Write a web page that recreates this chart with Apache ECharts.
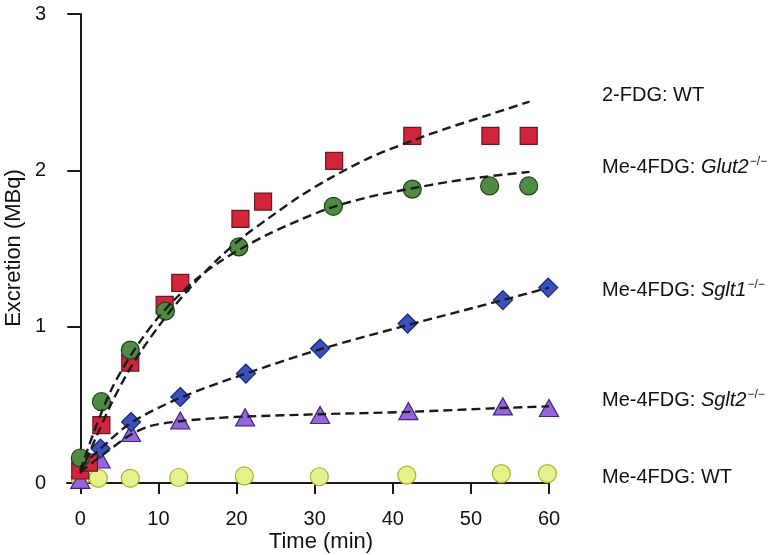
<!DOCTYPE html>
<html>
<head>
<meta charset="utf-8">
<script src="https://cdn.jsdelivr.net/npm/echarts@6/dist/echarts.min.js"></script>
<style>
html,body{margin:0;padding:0;background:#fff;}
#chart{width:776px;height:555px;}
</style>
</head>
<body>
<div id="chart"></div>
<script>
// ---- data ----
const xTicks = [0, 10, 20, 30, 40, 50, 60];
const yTicks = [0, 1, 2, 3];

const fdgWT_t = [0, 1.1, 2.7, 6.4, 10.8, 12.8, 20.5, 23.4, 32.5, 42.5, 52.5, 57.4];
const fdgWT_y = [0.08, 0.13, 0.37, 0.77, 1.14, 1.28, 1.69, 1.80, 2.06, 2.22, 2.22, 2.22];

const glut2_t = [0, 2.7, 6.4, 10.9, 20.3, 32.4, 42.5, 52.4, 57.4];
const glut2_y = [0.16, 0.52, 0.85, 1.10, 1.51, 1.77, 1.88, 1.90, 1.90];

const sglt1_t = [0.2, 2.6, 6.5, 12.8, 21.2, 30.7, 41.9, 54.1, 59.9];
const sglt1_y = [0.125, 0.22, 0.39, 0.55, 0.70, 0.86, 1.02, 1.17, 1.25];

const sglt2_t = [0, 2.6, 6.5, 12.8, 21.1, 30.7, 42.0, 54.1, 60];
const sglt2_y = [0.02, 0.15, 0.32, 0.40, 0.42, 0.435, 0.46, 0.49, 0.48];

const meWT_t = [0, 2.3, 6.4, 12.6, 21.0, 30.6, 41.8, 53.9, 59.8];
const meWT_y = [0.03, 0.03, 0.03, 0.035, 0.045, 0.04, 0.05, 0.06, 0.06];

// fitted curves (dashed)
const fdgFit_t = [0, 2, 4, 6, 8, 10, 12, 15, 18, 21, 24, 28, 32, 37, 42.5, 47, 52, 57.5];
const fdgFit_y = [0.06, 0.29, 0.51, 0.70, 0.86, 1.00, 1.13, 1.30, 1.45, 1.58, 1.69, 1.83, 1.95, 2.08, 2.19, 2.27, 2.35, 2.44];

const glut2Fit_t = [0, 2, 4, 6, 8, 10, 12, 15, 18, 21, 24, 28, 32, 37, 42.5, 47, 52, 57.5];
const glut2Fit_y = [0.08, 0.36, 0.60, 0.78, 0.93, 1.06, 1.17, 1.31, 1.42, 1.51, 1.59, 1.68, 1.76, 1.83, 1.885, 1.925, 1.96, 1.99];

const sglt1Fit_t = [0, 2.6, 6.5, 12.8, 21.2, 30.7, 41.9, 54.1, 60];
const sglt1Fit_y = [0.1, 0.22, 0.385, 0.545, 0.70, 0.855, 1.01, 1.17, 1.25];

const sglt2Fit_t = [0, 2.6, 6.5, 9, 12.8, 17.3, 21.1, 30.7, 42, 54.1, 60];
const sglt2Fit_y = [0.07, 0.17, 0.31, 0.365, 0.395, 0.415, 0.425, 0.44, 0.455, 0.48, 0.49];

const seriesLabels = [
  {text: '2-FDG: WT', italic: null, y: 95},
  {text: 'Me-4FDG: ', italic: 'Glut2', y: 167},
  {text: 'Me-4FDG: ', italic: 'Sglt1', y: 290},
  {text: 'Me-4FDG: ', italic: 'Sglt2', y: 400},
  {text: 'Me-4FDG: WT', italic: null, y: 477}
];

const FONT = '"Liberation Sans", Arial, Helvetica, sans-serif';
const zip = (a, b) => a.map((v, i) => [v, b[i]]);

function scatter(name, t, y, symbol, size, fill, border) {
  return {
    name, type: 'scatter', data: zip(t, y), symbol, symbolSize: size, z: 2,
    itemStyle: {color: fill, borderColor: border, borderWidth: 1.2, opacity: 1},
    emphasis: {disabled: true}
  };
}
function fit(name, t, y) {
  return {
    name, type: 'line', data: zip(t, y), showSymbol: false, smooth: 0.3, z: 5,
    lineStyle: {color: '#1a1a1a', width: 2.4, type: [9, 5]},
    emphasis: {disabled: true}
  };
}

const chart = echarts.init(document.getElementById('chart'), null, {renderer: 'canvas'});

const graphics = [
  {type: 'text', x: 321, y: 542, style: {text: 'Time (min)', font: '22px ' + FONT, fill: '#111', align: 'center', verticalAlign: 'middle'}},
  {type: 'text', x: 14, y: 248, rotation: Math.PI / 2, style: {text: 'Excretion (MBq)', font: '22px ' + FONT, fill: '#111', align: 'center', verticalAlign: 'middle'}}
];
seriesLabels.forEach(l => {
  let txt = '{n|' + l.text + '}';
  if (l.italic) txt += '{i|' + l.italic + '}{s|\u2212/\u2212}';
  graphics.push({
    type: 'text', x: 602, y: l.y,
    style: {
      text: txt, align: 'left', verticalAlign: 'middle', fill: '#111',
      rich: {
        n: {fontSize: 20, fontFamily: FONT, color: '#111', lineHeight: 22},
        i: {fontSize: 20, fontFamily: FONT, fontStyle: 'italic', color: '#111', lineHeight: 22},
        s: {fontSize: 12, fontFamily: FONT, color: '#111', verticalAlign: 'top', lineHeight: 22, padding: [0, 0, 0, 1]}
      }
    }
  });
});

chart.setOption({
  animation: false,
  backgroundColor: '#fff',
  grid: {left: 67, right: 227, top: 14, bottom: 62, containLabel: false, outerBoundsMode: 'none'},
  xAxis: {
    type: 'value', min: -1.7, max: 60,
    axisLine: {show: true, onZero: true, lineStyle: {color: '#1a1a1a', width: 2}},
    axisTick: {show: true, customValues: xTicks, length: 11, lineStyle: {color: '#1a1a1a', width: 2}},
    axisLabel: {customValues: xTicks, margin: 16, fontSize: 20, fontFamily: FONT, color: '#111'},
    splitLine: {show: false}
  },
  yAxis: {
    type: 'value', min: -0.064, max: 3,
    axisLine: {show: true, onZero: true, lineStyle: {color: '#1a1a1a', width: 2}},
    axisTick: {show: true, customValues: yTicks, length: 13, lineStyle: {color: '#1a1a1a', width: 2}},
    axisLabel: {customValues: yTicks, margin: 21, fontSize: 20, fontFamily: FONT, color: '#111'},
    splitLine: {show: false}
  },
  graphic: graphics,
  series: [
    scatter('Me-4FDG: WT', meWT_t, meWT_y, 'circle', 18, '#e6f08c', '#a9b431'),
    scatter('Me-4FDG: Sglt2', sglt2_t, sglt2_y, 'triangle', [19, 17], '#9366da', '#3f2580'),
    scatter('Me-4FDG: Sglt1', sglt1_t, sglt1_y, 'diamond', [19, 19], '#3a50bd', '#1b2470'),
    scatter('2-FDG: WT', fdgWT_t, fdgWT_y, 'rect', 17, '#d2253b', '#6b1620'),
    scatter('Me-4FDG: Glut2', glut2_t, glut2_y, 'circle', 18, '#4f8b45', '#213f1d'),
    fit('fit 2-FDG', fdgFit_t, fdgFit_y),
    fit('fit Glut2', glut2Fit_t, glut2Fit_y),
    fit('fit Sglt1', sglt1Fit_t, sglt1Fit_y),
    fit('fit Sglt2', sglt2Fit_t, sglt2Fit_y)
  ]
});
</script>
</body>
</html>
